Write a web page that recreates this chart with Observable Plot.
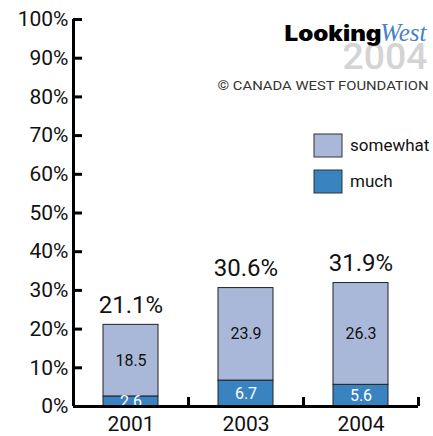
<!DOCTYPE html>
<html>
<head>
<meta charset="utf-8">
<script src="https://cdn.jsdelivr.net/npm/d3@7"></script>
<script src="https://cdn.jsdelivr.net/npm/@observablehq/plot@0.6"></script>
<style>
  html, body { margin: 0; padding: 0; background: #fff; }
  #chart svg { display: block; }
</style>
</head>
<body>
<div id="chart"></div>
<script>
// ---- data ----
const years = ["2001", "2003", "2004"];
const much = [2.6, 6.7, 5.6];
const somewhat = [18.5, 23.9, 26.3];
const seriesNames = ["much", "somewhat"];
const legendNames = ["somewhat", "much"];
const yTicks = [0, 10, 20, 30, 40, 50, 60, 70, 80, 90, 100];

const colorMuch = "#3a83c1";
const colorSome = "#a9b8d8";

const rows = [];
years.forEach((yr, i) => {
  rows.push({year: yr, type: "much", value: much[i]});
  rows.push({year: yr, type: "somewhat", value: somewhat[i]});
});
const totals = years.map((yr, i) => ({year: yr, total: much[i] + somewhat[i]}));

const font = "Roboto, 'Liberation Sans', sans-serif";

// legend drawn as a render function
function legend(index, scales, values, dims) {
  const g = d3.create("svg:g").attr("font-family", font).attr("text-anchor", "start");
  const x0 = dims.width - 119;
  legendNames.forEach((label, i) => {
    const y = 134 + i * 36;
    g.append("rect").attr("x", x0).attr("y", y).attr("width", 28).attr("height", 23)
      .attr("fill", scales.color(label)).attr("stroke", "#333").attr("stroke-width", 1);
    g.append("text").attr("x", x0 + 36).attr("y", y + 17).attr("font-size", 17)
      .attr("text-anchor", "start").attr("fill", "#111").text(label);
  });
  return g.node();
}

const half = (433 - 73 - 15) / years.length / 2;

const chart = Plot.plot({
  width: 433,
  height: 436,
  marginLeft: 73,
  marginRight: 15,
  marginTop: 19,
  marginBottom: 30,
  style: {fontFamily: font, background: "#fff", color: "#111"},
  x: {domain: years, paddingInner: 0.52, paddingOuter: 0.26, axis: null},
  y: {domain: [0, 100], axis: null},
  color: {domain: seriesNames, range: [colorMuch, colorSome]},
  marks: [
    // logo
    Plot.text([0], {frameAnchor: "top-right", text: () => "2004", dx: -76, dy: 49, lineAnchor: "bottom",
      textAnchor: "start", fontSize: 36, fontWeight: 500, fill: "#d4d4d4"}),
    Plot.text([0], {frameAnchor: "top-right", text: () => "Looking", dx: -134, dy: 21, lineAnchor: "bottom",
      textAnchor: "start", fontSize: 21, fontWeight: 900, fill: "#000", fontFamily: "Inter, Roboto, sans-serif"}),
    Plot.text([0], {frameAnchor: "top-right", text: () => "West", dx: 8, dy: 21, lineAnchor: "bottom",
      textAnchor: "end", fontSize: 25, fontStyle: "italic", fill: "#4a82c6",
      fontFamily: "'Liberation Serif', 'DejaVu Serif', serif"}),
    Plot.text([0], {frameAnchor: "top-right", text: () => "© CANADA WEST FOUNDATION", dx: -201, dy: 70,
      lineAnchor: "bottom", textAnchor: "start", fontSize: 13.5, fill: "#333"}),
    legend,
    // bars
    Plot.barY(rows, {x: "year", y: "value", fill: "type", stroke: "#222", strokeWidth: 1,
      order: seriesNames}),
    Plot.text(rows, Plot.stackY({x: "year", y: "value", z: "type", order: seriesNames,
      text: d => d.value.toFixed(1),
      fill: d => d.type === "much" ? "#fff" : "#111", fontSize: 16})),
    Plot.text(totals, {x: "year", y: "total", text: d => d.total.toFixed(1) + "%",
      lineAnchor: "bottom", dy: -12, fontSize: 24, fill: "#111"}),
    // axes
    Plot.ruleY([0], {strokeWidth: 3, stroke: "#000"}),
    Plot.ruleX([years[0]], {x: d => d, dx: -half, y1: 0, y2: 100, strokeWidth: 3, stroke: "#000"}),
    Plot.axisY(yTicks, {tickSize: 0, tickPadding: 5, tickFormat: d => d + "%", fontSize: 21, fill: "#111", label: null}),
    Plot.axisY(yTicks, {tickSize: -9, tickFormat: () => "", strokeWidth: 3, stroke: "#000", label: null}),
    Plot.axisX(years, {tickSize: 0, tickPadding: 10, fontSize: 21, fill: "#111", label: null}),
    Plot.axisX(years, {tickSize: -9, tickFormat: () => "", dx: half, strokeWidth: 3, stroke: "#000", label: null})
  ]
});
// stretch logo texts to the widths seen in the reference
const fit = [
  {text: "2004", size: "36", len: 85},
  {text: "Looking", size: "21", len: 97},
  {text: "© CANADA WEST FOUNDATION", size: "13.5", len: 211}
];
d3.select(chart).selectAll("text").each(function() {
  const size = this.parentNode.getAttribute("font-size") || this.getAttribute("font-size");
  for (const f of fit) {
    if (this.textContent === f.text && size === f.size) {
      this.setAttribute("textLength", f.len);
      this.setAttribute("lengthAdjust", "spacingAndGlyphs");
    }
  }
});
document.getElementById("chart").appendChild(chart);
</script>
</body>
</html>
